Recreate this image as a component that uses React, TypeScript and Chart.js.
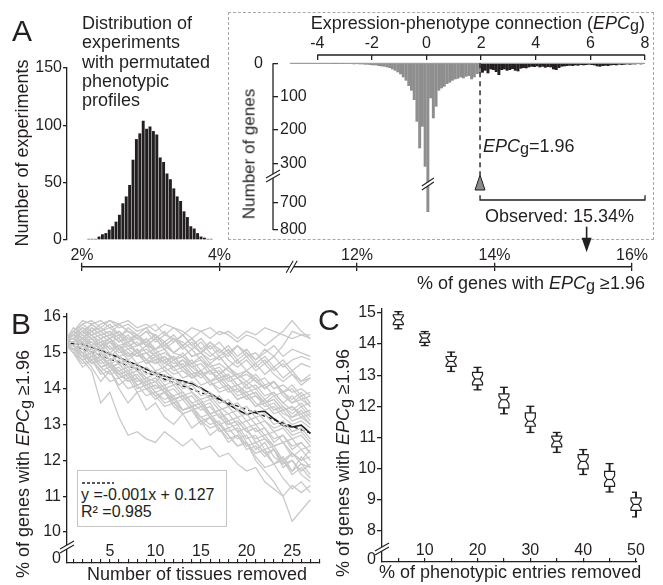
import React, { useEffect, useRef } from 'react';
import { Chart, registerables } from 'chart.js';

Chart.register(...registerables);

const FONT = "'Liberation Sans', Arial, Helvetica, sans-serif";
const INK = '#231f20';
const GREY_BAR = '#8e8e8e';
const GREY_LINE = '#c8c8c8';

// ---------- Panel A: permutation distribution ----------
const permPct = [2.10, 2.15, 2.20, 2.25, 2.30, 2.35, 2.40, 2.45, 2.50, 2.55, 2.60, 2.65, 2.70, 2.75, 2.80, 2.85, 2.90, 2.95, 3.00, 3.05, 3.10, 3.15, 3.20, 3.25, 3.30, 3.35, 3.40, 3.45, 3.50, 3.55, 3.60, 3.65, 3.70, 3.75, 3.80, 3.85, 3.90];
const permCounts = [1, 1, 1, 3, 5, 6, 9, 12, 16, 22, 32, 38, 48, 70, 88, 93, 104, 97, 99, 95, 92, 72, 68, 58, 53, 45, 38, 34, 25, 20, 12, 10, 6, 3, 2, 1, 1];
const permYTicks = [0, 50, 100, 150];

// ---------- Panel A inset: EPC histogram ----------
const epcBinCenters = [
  -3.45, -3.35, -3.25, -3.15, -3.05, -2.95, -2.85, -2.75, -2.65, -2.55, -2.45, -2.35, -2.25, -2.15, -2.05,
  -1.95, -1.85, -1.75, -1.65, -1.55, -1.45, -1.35, -1.25, -1.15, -1.05, -0.95, -0.85, -0.75, -0.65, -0.55, -0.45, -0.35, -0.25, -0.15, -0.05,
  0.05, 0.15, 0.25, 0.35, 0.45, 0.55, 0.65, 0.75, 0.85, 0.95, 1.05, 1.15, 1.25, 1.35, 1.45, 1.55, 1.65, 1.75, 1.85, 1.95,
  2.05, 2.15, 2.25, 2.35, 2.45, 2.55, 2.65, 2.75, 2.85, 2.95, 3.05, 3.15, 3.25, 3.35, 3.45, 3.55, 3.65, 3.75, 3.85, 3.95,
  4.05, 4.15, 4.25, 4.35, 4.45, 4.55, 4.65, 4.75, 4.85, 4.95, 5.05, 5.15, 5.25, 5.35, 5.45, 5.55, 5.65, 5.75, 5.85, 5.95,
  6.05, 6.15, 6.25, 6.35, 6.45, 6.55, 6.65, 6.75, 6.85, 6.95, 7.05, 7.15, 7.25, 7.35, 7.45, 7.55, 7.65, 7.75, 7.85, 7.95,
];
const epcGeneCounts = [
  1, 1, 1, 2, 1, 2, 2, 2, 3, 2, 3, 3, 4, 4, 5,
  6, 6, 8, 9, 10, 12, 14, 18, 22, 27, 33, 42, 52, 68, 82, 110, 175, 255, 190, 310,
  735, 105, 165, 130, 82, 75, 70, 62, 58, 52, 48, 46, 42, 45, 40, 38, 48, 42, 32, 30,
  28, 22, 30, 18, 20, 26, 35, 20, 18, 22, 20, 17, 22, 24, 16, 14, 15, 12, 10, 11,
  9, 12, 10, 13, 11, 12, 18, 20, 14, 10, 9, 8, 7, 8, 6, 7, 5, 6, 5, 4,
  5, 6, 9, 10, 8, 7, 8, 6, 5, 6, 4, 5, 4, 3, 4, 3, 3, 2, 3, 2,
];
const epcThreshold = 1.96;
const epcXTicks = [-4, -2, 0, 2, 4, 6, 8];
const geneTicks = [0, 100, 200, 300, 700, 800];
const epcBaselineFrom = -5;

// broken gene-count axis: 0..350 linear, 700..800 compressed
const geneDisp = (v: number) => (v <= 350 ? v : 417 + (v - 700) * 0.83);

// ---------- Panel A bottom: % axis (broken) ----------
const pctTicks = [2, 4, 12, 14, 16];
const observedPct = 15.34;
const pctDisp = (p: number) => (p <= 4 ? p : p - 6);
const pctBreakDisp = 5.05;

// ---------- Panel B: tissues removed ----------
const tissuesRemoved = [0, 1, 2, 3, 4, 5, 6, 7, 8, 9, 10, 11, 12, 13, 14, 15, 16, 17, 18, 19, 20, 21, 22, 23, 24, 25, 26, 27];
const tissueRuns = [
  [15.3, 15.6, 15.9, 15.8, 15.9, 15.7, 15.8, 15.6, 15.5, 15.7, 15.4, 15.6, 15.3, 15.5, 15.2, 15.4, 15.1, 15.3, 15.0, 15.2, 14.9, 15.0, 14.7, 14.9, 14.6, 14.8, 14.9, 14.8],
  [15.3, 15.5, 15.7, 15.6, 15.8, 15.9, 15.7, 15.8, 15.6, 15.7, 15.8, 15.5, 15.7, 15.6, 15.4, 15.6, 15.7, 15.5, 15.6, 15.4, 15.6, 15.5, 15.7, 15.6, 15.5, 15.4, 15.5, 15.4],
  [15.3, 15.4, 15.6, 15.8, 15.6, 15.4, 15.6, 15.3, 15.5, 15.2, 15.4, 15.1, 15.3, 15.5, 15.2, 15.0, 15.3, 15.1, 14.9, 15.2, 15.0, 14.8, 15.1, 14.9, 15.2, 15.6, 15.5, 15.5],
  [15.3, 15.2, 14.9, 14.6, 14.2, 14.5, 14.0, 13.6, 13.9, 13.4, 13.6, 13.2, 13.0, 13.3, 12.9, 13.1, 12.7, 12.9, 12.5, 12.7, 12.3, 12.4, 12.1, 12.3, 11.8, 12.0, 11.6, 11.4],
  [15.3, 15.1, 14.9, 14.8, 14.5, 14.6, 14.3, 14.4, 14.1, 14.2, 13.9, 13.7, 13.8, 13.4, 13.5, 13.1, 12.9, 13.0, 12.7, 12.4, 12.5, 12.0, 11.7, 11.4, 11.0, 10.3, 10.6, 10.9],
  [15.3, 15.4, 15.2, 15.0, 15.1, 14.8, 14.9, 14.6, 14.7, 14.4, 14.5, 14.2, 14.3, 14.0, 14.1, 13.8, 13.9, 13.6, 13.7, 13.4, 13.5, 13.2, 13.3, 13.0, 13.1, 12.8, 12.9, 12.6],
  [15.3, 15.5, 15.3, 15.4, 15.2, 15.3, 15.1, 15.2, 15.0, 15.1, 14.9, 15.0, 14.8, 14.9, 14.6, 14.7, 14.4, 14.5, 14.2, 14.3, 14.0, 14.1, 13.8, 13.9, 13.6, 13.8, 13.5, 13.6],
  [15.3, 15.0, 14.8, 14.9, 14.6, 14.4, 14.5, 14.2, 14.3, 14.0, 14.1, 13.9, 13.7, 13.8, 13.5, 13.6, 13.3, 13.4, 13.1, 13.2, 12.9, 13.0, 12.7, 12.8, 12.5, 12.6, 12.3, 12.4],
  [15.3, 15.2, 15.4, 15.1, 15.3, 15.0, 15.2, 14.9, 15.1, 14.8, 14.7, 14.9, 14.6, 14.7, 14.4, 14.5, 14.2, 14.0, 14.1, 13.8, 13.9, 13.6, 13.4, 13.5, 13.2, 13.0, 13.1, 12.9],
  [15.3, 15.0, 14.8, 14.5, 13.6, 13.9, 13.2, 12.7, 12.8, 12.6, 12.5, 12.8, 12.6, 12.4, 12.6, 12.3, 12.4, 12.1, 12.2, 11.9, 11.7, 11.8, 11.4, 11.2, 11.0, 11.3, 11.1, 11.3],
  [15.3, 15.4, 15.6, 15.5, 15.3, 15.4, 15.2, 15.3, 15.4, 15.2, 15.1, 15.3, 15.0, 14.9, 15.1, 14.8, 14.6, 14.7, 14.5, 14.3, 14.4, 14.2, 14.3, 14.0, 14.1, 13.9, 14.0, 13.8],
  [15.3, 15.2, 15.0, 15.1, 14.9, 14.7, 14.8, 14.5, 14.6, 14.3, 14.2, 14.4, 14.1, 14.2, 13.9, 13.7, 13.8, 13.5, 13.3, 13.4, 13.1, 13.2, 12.9, 12.6, 12.7, 12.4, 12.5, 12.2],
  [15.3, 15.3, 15.1, 15.2, 15.0, 14.8, 14.9, 14.7, 14.5, 14.6, 14.4, 14.5, 14.3, 14.1, 14.2, 14.0, 13.7, 13.8, 13.5, 13.6, 13.3, 13.4, 13.1, 12.9, 13.0, 12.7, 12.8, 12.5],
  [15.3, 15.5, 15.7, 15.5, 15.6, 15.4, 15.5, 15.2, 15.3, 15.0, 15.1, 14.8, 14.9, 14.6, 14.7, 14.4, 14.5, 14.2, 14.3, 14.0, 13.8, 13.9, 13.6, 13.7, 13.4, 13.5, 13.2, 13.3],
  [15.3, 15.1, 15.2, 14.9, 15.0, 14.6, 14.7, 14.4, 14.5, 14.2, 14.3, 14.0, 13.8, 13.9, 13.6, 13.4, 13.5, 13.2, 13.0, 13.1, 12.8, 12.9, 12.6, 12.4, 12.5, 12.2, 12.0, 12.1],
  [15.3, 15.4, 15.3, 15.5, 15.2, 15.4, 15.1, 15.3, 15.0, 14.8, 15.0, 14.7, 14.9, 14.6, 14.4, 14.5, 14.2, 14.3, 14.0, 13.7, 13.8, 13.5, 13.6, 13.3, 13.4, 13.1, 13.2, 13.0],
  [15.3, 15.2, 15.3, 15.0, 14.8, 15.0, 14.7, 14.8, 14.5, 14.3, 14.4, 14.1, 14.2, 13.9, 13.6, 13.7, 13.3, 13.4, 13.1, 12.8, 12.9, 12.5, 12.6, 12.3, 12.0, 12.2, 11.9, 11.8],
  [15.3, 15.6, 15.4, 15.7, 15.5, 15.6, 15.3, 15.5, 15.2, 15.4, 15.1, 15.3, 15.0, 15.2, 14.9, 15.0, 14.8, 14.9, 14.6, 14.8, 14.5, 14.7, 14.4, 14.6, 14.3, 14.5, 14.2, 14.3],
  [15.3, 15.0, 15.1, 14.8, 14.9, 14.6, 14.4, 14.5, 14.2, 14.3, 14.0, 14.1, 13.7, 13.8, 13.5, 13.6, 13.3, 13.4, 13.0, 13.1, 12.8, 12.6, 12.7, 12.4, 12.5, 12.1, 12.3, 12.0],
  [15.3, 15.3, 15.5, 15.2, 15.4, 15.1, 15.2, 14.9, 15.0, 14.7, 14.8, 14.5, 14.6, 14.3, 14.4, 14.1, 14.2, 13.9, 14.0, 13.7, 13.8, 13.5, 13.7, 13.4, 13.5, 13.2, 13.4, 13.1],
  [15.3, 15.1, 14.9, 15.0, 14.7, 14.8, 14.4, 14.5, 14.1, 14.2, 13.9, 14.0, 13.6, 13.7, 13.4, 13.5, 13.2, 13.3, 12.9, 13.0, 12.6, 12.7, 12.3, 12.4, 12.0, 11.6, 11.8, 11.5],
  [15.3, 15.4, 15.6, 15.4, 15.5, 15.3, 15.4, 15.1, 15.2, 15.3, 15.0, 15.1, 14.8, 14.9, 14.7, 14.8, 14.5, 14.6, 14.3, 14.4, 14.2, 14.4, 14.1, 14.2, 13.9, 14.1, 13.8, 13.9],
  [15.3, 15.2, 15.0, 14.7, 14.8, 14.5, 14.6, 14.3, 14.4, 14.1, 14.2, 13.9, 14.0, 13.7, 13.8, 13.5, 13.6, 13.2, 13.3, 13.0, 13.1, 12.8, 12.9, 12.5, 12.7, 12.3, 12.5, 12.2],
  [15.3, 15.5, 15.3, 15.6, 15.4, 15.5, 15.6, 15.4, 15.5, 15.3, 15.5, 15.2, 15.4, 15.1, 15.3, 15.0, 15.2, 14.9, 15.1, 14.8, 15.0, 14.7, 14.9, 14.6, 14.8, 14.5, 14.7, 14.6],
  [15.3, 15.2, 14.9, 15.0, 14.6, 14.7, 14.3, 14.4, 14.0, 14.1, 13.8, 13.5, 13.6, 13.3, 13.4, 13.1, 13.2, 12.9, 12.6, 12.7, 12.4, 12.5, 12.2, 11.9, 12.1, 11.7, 11.9, 11.6],
  [15.3, 15.3, 15.4, 15.2, 15.3, 15.1, 15.2, 15.0, 14.9, 15.0, 14.8, 14.9, 14.7, 14.8, 14.6, 14.4, 14.5, 14.3, 14.4, 14.1, 14.2, 14.0, 14.1, 13.8, 13.9, 13.6, 13.7, 13.5],
  [15.3, 15.0, 14.7, 14.8, 14.5, 14.2, 14.3, 14.0, 14.1, 13.8, 13.9, 13.6, 13.7, 13.4, 13.5, 13.2, 13.3, 13.0, 13.1, 12.8, 12.4, 12.5, 12.2, 12.3, 11.9, 12.0, 11.7, 11.9],
  [15.3, 15.4, 15.2, 15.3, 15.1, 15.2, 14.9, 15.0, 14.7, 14.8, 14.5, 14.6, 14.4, 14.5, 14.3, 14.4, 14.1, 14.2, 13.9, 14.0, 13.7, 13.8, 13.5, 13.6, 13.3, 13.2, 13.3, 13.0],
  [15.3, 15.2, 15.4, 15.3, 15.1, 15.3, 15.0, 15.1, 14.9, 15.0, 14.7, 14.8, 14.5, 14.6, 14.3, 14.5, 14.2, 14.3, 14.0, 14.1, 13.8, 13.9, 13.6, 13.7, 13.4, 13.5, 13.3, 13.4],
  [15.3, 15.1, 15.0, 14.7, 14.9, 14.6, 14.7, 14.4, 14.5, 14.2, 14.3, 14.0, 14.1, 13.8, 13.9, 13.6, 13.7, 13.4, 13.5, 13.2, 13.3, 13.0, 13.1, 12.8, 12.9, 12.6, 12.7, 12.4],
  [15.3, 15.6, 15.8, 15.9, 15.7, 15.9, 15.8, 15.9, 15.7, 15.8, 15.6, 15.8, 15.7, 15.5, 15.7, 15.6, 15.4, 15.6, 15.5, 15.3, 15.5, 15.4, 15.2, 15.4, 15.6, 15.9, 15.6, 15.4],
  [15.3, 15.7, 15.5, 15.8, 15.6, 15.7, 15.5, 15.6, 15.4, 15.6, 15.3, 15.5, 15.4, 15.2, 15.4, 15.1, 15.3, 15.0, 15.2, 14.9, 15.1, 14.8, 15.0, 15.2, 14.9, 15.1, 15.0, 14.9],
  [15.3, 15.5, 15.8, 15.6, 15.7, 15.5, 15.8, 15.6, 15.4, 15.6, 15.5, 15.3, 15.5, 15.2, 15.4, 15.1, 14.9, 15.1, 14.8, 14.6, 14.8, 14.5, 14.7, 14.4, 14.2, 14.4, 14.1, 14.3],
  [15.3, 15.4, 15.7, 15.5, 15.6, 15.8, 15.5, 15.3, 15.5, 15.2, 15.4, 15.1, 14.8, 15.0, 14.7, 14.9, 14.6, 14.4, 14.6, 14.3, 14.5, 14.2, 14.0, 14.2, 13.9, 13.7, 13.9, 13.6],
  [15.3, 15.1, 14.8, 14.9, 14.6, 14.7, 14.4, 14.2, 14.3, 14.0, 13.8, 13.9, 13.6, 13.4, 13.5, 13.2, 13.0, 13.1, 12.7, 12.4, 12.5, 12.1, 11.8, 11.9, 11.5, 11.2, 11.4, 11.1],
  [15.3, 15.2, 15.0, 14.8, 14.9, 14.7, 14.5, 14.6, 14.3, 14.1, 14.2, 13.9, 13.7, 13.8, 13.5, 13.6, 13.2, 13.0, 12.8, 12.9, 12.5, 12.2, 12.3, 11.9, 12.0, 11.7, 12.1, 11.8],
  [15.3, 15.5, 15.4, 15.6, 15.4, 15.5, 15.3, 15.4, 15.2, 15.3, 15.1, 15.2, 15.0, 15.2, 14.9, 15.0, 14.7, 14.9, 14.6, 14.4, 14.5, 14.3, 14.0, 14.2, 13.9, 14.0, 13.7, 13.8],
  [15.3, 15.3, 15.6, 15.4, 15.2, 15.4, 15.1, 15.3, 15.0, 15.2, 14.9, 14.7, 14.9, 14.6, 14.8, 14.5, 14.7, 14.4, 14.6, 14.3, 14.1, 14.3, 14.0, 14.2, 13.8, 13.6, 13.8, 13.5],
  [15.3, 15.1, 15.3, 15.0, 15.2, 14.9, 15.1, 14.8, 15.0, 14.7, 14.9, 14.6, 14.8, 14.5, 14.3, 14.5, 14.2, 14.4, 14.1, 13.9, 14.1, 13.8, 13.6, 13.8, 13.5, 13.3, 13.5, 13.2],
  [15.3, 15.0, 14.6, 14.8, 14.4, 14.5, 14.1, 14.3, 13.9, 14.0, 13.7, 13.9, 13.5, 13.3, 13.4, 13.0, 13.2, 12.8, 12.9, 12.6, 12.7, 12.3, 12.5, 12.1, 11.9, 12.2, 12.0, 12.3],
  [15.3, 15.6, 15.4, 15.7, 15.5, 15.6, 15.4, 15.7, 15.5, 15.3, 15.5, 15.2, 15.4, 15.3, 15.1, 15.3, 15.0, 14.8, 15.0, 14.7, 14.9, 14.6, 14.8, 14.5, 14.7, 14.4, 14.2, 14.4],
  [15.3, 15.4, 15.2, 15.4, 15.1, 15.3, 15.1, 14.9, 15.1, 14.8, 15.0, 14.7, 14.6, 14.8, 14.5, 14.3, 14.5, 14.2, 14.4, 14.1, 13.9, 14.0, 13.7, 13.9, 13.6, 13.4, 13.6, 13.3],
];
const tissueMean = [15.33, 15.25, 15.24, 15.15, 15.07, 14.97, 14.87, 14.76, 14.66, 14.54, 14.44, 14.35, 14.27, 14.21, 14.14, 14.02, 13.87, 13.71, 13.56, 13.41, 13.28, 13.35, 13.37, 13.16, 12.97, 12.93, 12.98, 12.75];
const fitX = [0, 27];
const fitY = [15.3, 12.76];
const tissueXTicks = [1, 2, 3, 4, 5, 6, 7, 8, 9, 10, 11, 12, 13, 14, 15, 16, 17, 18, 19, 20, 21, 22, 23, 24, 25, 26, 27, 28];
const tissueXLabels = [5, 10, 15, 20, 25];
const tissueYTicks = [9.27, 10, 11, 12, 13, 14, 15, 16];
const tissueYLabels = ['0', '10', '11', '12', '13', '14', '15', '16'];
const tissueBreakAt = 9.58;

// ---------- Panel C: phenotypic entries removed ----------
const entriesRemoved = [5, 10, 15, 20, 25, 30, 35, 40, 45, 50];
const boxLow = [14.49, 13.95, 13.12, 12.53, 11.76, 11.16, 10.52, 9.81, 9.25, 8.45];
const boxQ1 = [14.62, 14.05, 13.28, 12.69, 11.95, 11.36, 10.70, 9.99, 9.43, 8.66];
const boxMed = [14.78, 14.19, 13.44, 12.88, 12.21, 11.52, 10.88, 10.23, 9.65, 8.85];
const boxQ3 = [14.94, 14.33, 13.60, 13.09, 12.40, 11.79, 11.04, 10.45, 9.91, 9.06];
const boxHigh = [15.04, 14.40, 13.74, 13.25, 12.61, 12.00, 11.16, 10.61, 10.16, 9.24];
const entriesXTicks = [5, 10, 15, 20, 25, 30, 35, 40, 45, 50];
const entriesXLabels = [10, 20, 30, 40, 50];
const entriesYTicks = [7.07, 8, 9, 10, 11, 12, 13, 14, 15];
const entriesYLabels = ['0', '8', '9', '10', '11', '12', '13', '14', '15'];
const entriesBreakAt = 7.42;

// ---------- helpers ----------
const tickFont = { family: FONT, size: 16 };
const setTicks = (vals: number[]) => (s: any) => {
  s.ticks = vals.map((v) => ({ value: v }));
};
const fit = (w: number | null, h: number | null) => (s: any) => {
  if (w !== null) s.width = w;
  if (h !== null) s.height = h;
  s.paddingLeft = 0;
  s.paddingRight = 0;
  s.paddingTop = 0;
  s.paddingBottom = 0;
};
const common: any = {
  animation: false,
  responsive: false,
  maintainAspectRatio: false,
  events: [],
  plugins: { legend: { display: false }, tooltip: { enabled: false } },
};

function drawBreak(ctx: CanvasRenderingContext2D, cx: number, cy: number, dx: number, dy: number, ox: number, oy: number) {
  ctx.save();
  ctx.fillStyle = '#ffffff';
  ctx.beginPath();
  ctx.moveTo(cx - dx + ox, cy - dy + oy);
  ctx.lineTo(cx + dx + ox, cy + dy + oy);
  ctx.lineTo(cx + dx - ox, cy + dy - oy);
  ctx.lineTo(cx - dx - ox, cy - dy - oy);
  ctx.closePath();
  ctx.fill();
  ctx.strokeStyle = INK;
  ctx.lineWidth = 1.1;
  ctx.beginPath();
  ctx.moveTo(cx - dx + ox, cy - dy + oy);
  ctx.lineTo(cx + dx + ox, cy + dy + oy);
  ctx.moveTo(cx - dx - ox, cy - dy - oy);
  ctx.lineTo(cx + dx - ox, cy + dy - oy);
  ctx.stroke();
  ctx.restore();
}

const insetDecor = {
  id: 'insetDecor',
  afterDatasetsDraw(chart: any) {
    const ctx: CanvasRenderingContext2D = chart.ctx;
    const x = chart.scales.x;
    const y = chart.scales.y;
    const px = (v: number) => x.getPixelForValue(v);
    const py = (v: number) => y.getPixelForValue(v);
    ctx.save();
    ctx.strokeStyle = '#8a8a8a';
    ctx.lineWidth = 1;
    ctx.beginPath();
    ctx.moveTo(px(epcBaselineFrom), py(0));
    ctx.lineTo(px(epcXTicks[epcXTicks.length - 1]), py(0));
    ctx.stroke();
    ctx.strokeStyle = INK;
    ctx.lineWidth = 1.3;
    ctx.beginPath();
    ctx.moveTo(px(epcXTicks[0]), x.bottom);
    ctx.lineTo(px(epcXTicks[epcXTicks.length - 1]), x.bottom);
    ctx.stroke();
    ctx.beginPath();
    ctx.moveTo(y.right, py(0));
    ctx.lineTo(y.right, py(geneDisp(800)));
    ctx.stroke();
    drawBreak(ctx, y.right, py(338), 7, -4, 0, 2);
    drawBreak(ctx, px(0.05), py(362), 6, -4, 0, 2);
    const tx = px(epcThreshold);
    ctx.strokeStyle = INK;
    ctx.setLineDash([5, 4]);
    ctx.lineWidth = 1.4;
    ctx.beginPath();
    ctx.moveTo(tx, py(0));
    ctx.lineTo(tx, py(335));
    ctx.stroke();
    ctx.setLineDash([]);
    ctx.fillStyle = '#8a8a8a';
    ctx.lineWidth = 1;
    ctx.beginPath();
    ctx.moveTo(tx, py(335));
    ctx.lineTo(tx + 5, py(380));
    ctx.lineTo(tx - 5, py(380));
    ctx.closePath();
    ctx.fill();
    ctx.stroke();
    ctx.lineWidth = 1.3;
    ctx.beginPath();
    ctx.moveTo(tx, py(396));
    ctx.lineTo(tx, py(410));
    ctx.lineTo(px(8), py(410));
    ctx.lineTo(px(8), py(396));
    ctx.stroke();
    ctx.restore();
  },
};

const pctDecor = {
  id: 'pctDecor',
  afterDraw(chart: any) {
    const ctx: CanvasRenderingContext2D = chart.ctx;
    const x = chart.scales.x;
    const yl = x.bottom;
    drawBreak(ctx, x.getPixelForValue(pctBreakDisp), yl, 3.5, -6, 2, 0);
    const ax = x.getPixelForValue(pctDisp(observedPct));
    ctx.save();
    ctx.strokeStyle = INK;
    ctx.fillStyle = INK;
    ctx.lineWidth = 1.6;
    ctx.beginPath();
    ctx.moveTo(ax, yl - 40);
    ctx.lineTo(ax, yl - 27);
    ctx.stroke();
    ctx.beginPath();
    ctx.moveTo(ax - 5, yl - 29);
    ctx.lineTo(ax + 5, yl - 29);
    ctx.lineTo(ax, yl - 14.5);
    ctx.closePath();
    ctx.fill();
    ctx.restore();
  },
};

const tissueDecor = {
  id: 'tissueDecor',
  afterDraw(chart: any) {
    const y = chart.scales.y;
    drawBreak(chart.ctx, y.right, y.getPixelForValue(tissueBreakAt), 7, -4, 0, 2);
  },
};

const boxDecor = {
  id: 'boxDecor',
  afterDatasetsDraw(chart: any) {
    const ctx: CanvasRenderingContext2D = chart.ctx;
    const x = chart.scales.x;
    const y = chart.scales.y;
    ctx.save();
    ctx.strokeStyle = INK;
    ctx.fillStyle = '#ffffff';
    ctx.lineWidth = 1.2;
    entriesRemoved.forEach((e, i) => {
      const cx = x.getPixelForValue(e);
      const hw = 5;
      const d = 2.4;
      const top = y.getPixelForValue(boxQ3[i]);
      const bot = y.getPixelForValue(boxQ1[i]);
      const med = y.getPixelForValue(boxMed[i]);
      const nTop = Math.max(top, y.getPixelForValue(boxMed[i] + 0.12));
      const nBot = Math.min(bot, y.getPixelForValue(boxMed[i] - 0.12));
      ctx.beginPath();
      ctx.moveTo(cx - hw, top);
      ctx.lineTo(cx + hw, top);
      ctx.lineTo(cx + hw, nTop);
      ctx.lineTo(cx + hw - d, med);
      ctx.lineTo(cx + hw, nBot);
      ctx.lineTo(cx + hw, bot);
      ctx.lineTo(cx - hw, bot);
      ctx.lineTo(cx - hw, nBot);
      ctx.lineTo(cx - hw + d, med);
      ctx.lineTo(cx - hw, nTop);
      ctx.closePath();
      ctx.fill();
      ctx.stroke();
      ctx.beginPath();
      ctx.moveTo(cx - hw + d, med);
      ctx.lineTo(cx + hw - d, med);
      ctx.stroke();
    });
    ctx.restore();
    drawBreak(ctx, y.right, y.getPixelForValue(entriesBreakAt), 7, -4, 0, 2);
  },
};

const EPCg = () => (
  <>
    <i>EPC</i>
    <span style={{ fontSize: '0.9em', position: 'relative', top: '0.14em' }}>g</span>
  </>
);

const abs = (s: React.CSSProperties): React.CSSProperties => ({
  position: 'absolute',
  whiteSpace: 'nowrap',
  lineHeight: 1,
  fontSize: 18,
  ...s,
});
const rot = (cx: number, cy: number, size: number): React.CSSProperties =>
  abs({ left: cx, top: cy, fontSize: size, transform: 'translate(-50%, -50%) rotate(-90deg)' });

export default function App() {
  const aHist = useRef<HTMLCanvasElement>(null);
  const aInset = useRef<HTMLCanvasElement>(null);
  const aAxis = useRef<HTMLCanvasElement>(null);
  const bRef = useRef<HTMLCanvasElement>(null);
  const cRef = useRef<HTMLCanvasElement>(null);

  useEffect(() => {
    Chart.defaults.font.family = FONT;
    Chart.defaults.color = INK;
    const charts: Chart[] = [];

    // Panel A – permutation histogram
    charts.push(
      new Chart(aHist.current!, {
        type: 'bar',
        data: {
          datasets: [
            {
              data: permPct.map((p, i) => ({ x: p, y: permCounts[i] })),
              backgroundColor: INK,
              borderWidth: 0,
              barPercentage: 0.86,
              categoryPercentage: 1,
            } as any,
          ],
        },
        options: {
          ...common,
          layout: { padding: { left: 0, right: 18, top: 28, bottom: 20 } },
          scales: {
            x: { type: 'linear', display: false, min: 1.779, max: 4.059, offset: false } as any,
            y: {
              min: 0,
              max: 150,
              afterBuildTicks: setTicks(permYTicks),
              afterFit: fit(67, null),
              border: { color: INK, width: 1.3 },
              grid: { drawOnChartArea: false, color: INK, tickColor: INK, tickLength: 4, lineWidth: 1.3 },
              ticks: { font: tickFont, color: INK, padding: 1, autoSkip: false },
            } as any,
          },
        },
      })
    );

    // Panel A inset – EPC histogram
    charts.push(
      new Chart(aInset.current!, {
        type: 'bar',
        data: {
          datasets: [
            {
              data: epcBinCenters.map((x, i) => ({ x, y: geneDisp(epcGeneCounts[i]) })),
              backgroundColor: epcBinCenters.map((x) => (x < epcThreshold ? GREY_BAR : INK)),
              borderWidth: 0,
              barPercentage: 1.08,
              categoryPercentage: 1,
              xAxisID: 'x',
              yAxisID: 'y',
            } as any,
          ],
        },
        options: {
          ...common,
          layout: { padding: { left: 0, right: 18, top: 0, bottom: 32 } },
          scales: {
            x: {
              type: 'linear',
              position: 'top',
              min: -5.62,
              max: 8,
              offset: false,
              afterBuildTicks: setTicks(epcXTicks),
              afterFit: fit(null, 43),
              border: { display: false },
              grid: { drawOnChartArea: false, offset: false, color: INK, tickColor: INK, tickLength: -5, lineWidth: 1.3 },
              ticks: { font: tickFont, color: INK, padding: 7, maxRotation: 0, autoSkip: false },
            } as any,
            y: {
              type: 'linear',
              position: 'left',
              weight: 0,
              reverse: true,
              min: -25,
              max: 500,
              afterBuildTicks: setTicks(geneTicks.map(geneDisp)),
              afterFit: fit(0, null),
              border: { display: false },
              grid: { drawOnChartArea: false, color: INK, tickColor: INK, tickLength: -5, lineWidth: 1.3 },
              ticks: {
                mirror: true,
                padding: 7,
                font: tickFont,
                color: INK,
                autoSkip: false,
                callback: (_v: any, i: number) => (i === 0 ? '' : String(geneTicks[i])),
              },
            } as any,
            y0: {
              type: 'linear',
              axis: 'y',
              position: 'left',
              weight: 1,
              reverse: true,
              min: -25,
              max: 500,
              afterBuildTicks: setTicks([geneTicks[0]]),
              afterFit: fit(45, null),
              border: { display: false },
              grid: { display: false, drawTicks: false },
              ticks: { padding: 10, font: tickFont, color: INK, callback: () => String(geneTicks[0]) },
            } as any,
          },
        },
        plugins: [insetDecor],
      })
    );

    // Panel A bottom – broken % axis
    charts.push(
      new Chart(aAxis.current!, {
        type: 'scatter',
        data: { datasets: [{ data: [] }] },
        options: {
          ...common,
          layout: { padding: { left: 82, right: 31, top: 0, bottom: 6 } },
          scales: {
            x: {
              type: 'linear',
              position: 'top',
              min: pctDisp(pctTicks[0]),
              max: pctDisp(pctTicks[pctTicks.length - 1]),
              afterBuildTicks: setTicks(pctTicks.map(pctDisp)),
              afterFit: fit(null, 51.7),
              border: { color: INK, width: 1.5 },
              grid: { drawOnChartArea: true, color: INK, tickColor: INK, tickLength: 4, lineWidth: 1.3 },
              ticks: {
                font: tickFont,
                color: INK,
                padding: -2,
                maxRotation: 0,
                autoSkip: false,
                callback: (_v: any, i: number) => pctTicks[i] + '%',
              },
            } as any,
            y: { display: false, min: 0, max: 1 },
          },
        },
        plugins: [pctDecor],
      })
    );

    // Panel B – tissues removed
    const greyRuns = tissueRuns.map((run) => ({
      data: tissuesRemoved.map((t, j) => ({ x: t, y: run[j] })),
      borderColor: GREY_LINE,
      borderWidth: 1.25,
      pointRadius: 0,
      tension: 0,
    }));
    charts.push(
      new Chart(bRef.current!, {
        type: 'line',
        data: {
          datasets: [
            ...greyRuns,
            {
              data: tissuesRemoved.map((t, j) => ({ x: t, y: tissueMean[j] })),
              borderColor: INK,
              borderWidth: 1.6,
              pointRadius: 0,
              tension: 0,
            },
            {
              data: fitX.map((t, j) => ({ x: t, y: fitY[j] })),
              borderColor: INK,
              borderWidth: 1.4,
              borderDash: [4, 3],
              pointRadius: 0,
            },
          ] as any,
        },
        options: {
          ...common,
          layout: { padding: { left: 0, right: 10.5, top: 13.4, bottom: 0 } },
          scales: {
            x: {
              type: 'linear',
              min: 0.3,
              max: 28,
              offset: false,
              afterBuildTicks: setTicks(tissueXTicks),
              afterFit: fit(null, 22),
              border: { color: INK, width: 1.3 },
              grid: { drawOnChartArea: false, color: INK, tickColor: INK, tickLength: -4, lineWidth: 1.1 },
              ticks: {
                mirror: true,
                padding: 2,
                font: tickFont,
                color: INK,
                maxRotation: 0,
                autoSkip: false,
                callback: (v: any) => (tissueXLabels.includes(v) ? String(v) : ''),
              },
            } as any,
            y: {
              min: 9.135,
              max: 16.1,
              afterBuildTicks: setTicks(tissueYTicks),
              afterFit: fit(67, null),
              border: { color: INK, width: 1.3 },
              grid: {
                drawOnChartArea: false,
                color: INK,
                tickColor: (c: any) => (c.index === 0 ? 'rgba(0,0,0,0)' : INK),
                tickLength: 4,
                lineWidth: 1.3,
              },
              ticks: { font: tickFont, color: INK, padding: 2, autoSkip: false, callback: (_v: any, i: number) => tissueYLabels[i] },
            } as any,
          },
        },
        plugins: [tissueDecor],
      })
    );

    // Panel C – phenotypic entries removed (notched box plots)
    charts.push(
      new Chart(cRef.current!, {
        type: 'scatter',
        data: {
          datasets: [
            {
              type: 'bar',
              data: entriesRemoved.map((e, i) => ({ x: e, y: [boxLow[i], boxHigh[i]] })),
              backgroundColor: INK,
              borderWidth: 0,
              barThickness: 1.3,
              grouped: false,
            },
            {
              data: entriesRemoved.map((e, i) => ({ x: e, y: boxLow[i] })),
              pointStyle: 'line',
              pointRadius: 4,
              borderColor: INK,
              borderWidth: 1.3,
            },
            {
              data: entriesRemoved.map((e, i) => ({ x: e, y: boxHigh[i] })),
              pointStyle: 'line',
              pointRadius: 4,
              borderColor: INK,
              borderWidth: 1.3,
            },
          ] as any,
        },
        options: {
          ...common,
          layout: { padding: { left: 0, right: 26, top: 9, bottom: 0 } },
          scales: {
            x: {
              type: 'linear',
              min: 1.914,
              max: 50.19,
              offset: false,
              afterBuildTicks: setTicks(entriesXTicks),
              afterFit: fit(null, 23),
              border: { color: INK, width: 1.3 },
              grid: { drawOnChartArea: false, offset: false, color: INK, tickColor: INK, tickLength: -4, lineWidth: 1.2 },
              ticks: {
                mirror: true,
                padding: 2,
                font: tickFont,
                color: INK,
                maxRotation: 0,
                autoSkip: false,
                callback: (v: any) => (entriesXLabels.includes(v) ? String(v) : ''),
              },
            } as any,
            y: {
              min: 7.0,
              max: 15.125,
              afterBuildTicks: setTicks(entriesYTicks),
              afterFit: fit(52, null),
              border: { color: INK, width: 1.3 },
              grid: {
                drawOnChartArea: false,
                color: INK,
                tickColor: (c: any) => (c.index === 0 ? 'rgba(0,0,0,0)' : INK),
                tickLength: 5,
                lineWidth: 1.3,
              },
              ticks: { font: tickFont, color: INK, padding: 1, autoSkip: false, callback: (_v: any, i: number) => entriesYLabels[i] },
            } as any,
          },
        },
        plugins: [boxDecor],
      })
    );

    return () => charts.forEach((c) => c.destroy());
  }, []);

  const cv = (left: number, top: number): React.CSSProperties => ({ position: 'absolute', left, top });

  return (
    <div
      style={{
        position: 'absolute',
        left: 0,
        top: 0,
        width: 663,
        height: 585,
        overflow: 'hidden',
        background: '#ffffff',
        fontFamily: FONT,
        color: INK,
      }}
    >
      <div
        style={{
          position: 'absolute',
          left: 228,
          top: 12,
          width: 426,
          height: 228,
          boxSizing: 'border-box',
          border: '1px dashed #a8a8a8',
        }}
      />
      <canvas ref={aHist} width={240} height={220} style={cv(0, 40)} />
      <canvas ref={aInset} width={435} height={250} style={cv(228, 12)} />
      <canvas ref={aAxis} width={663} height={62} style={cv(0, 215)} />
      <canvas ref={bRef} width={330} height={285} style={cv(0, 300)} />
      <canvas ref={cRef} width={333} height={285} style={cv(330, 300)} />

      {/* Panel B regression box */}
      <div
        style={{
          position: 'absolute',
          left: 77,
          top: 470,
          width: 150,
          height: 57,
          boxSizing: 'border-box',
          border: '1px solid #c4c4c4',
          background: '#ffffff',
        }}
      >
        <svg style={{ position: 'absolute', left: 4, top: 10 }} width={32} height={4}>
          <line x1={0} y1={2} x2={32} y2={2} stroke={INK} strokeWidth={1.4} strokeDasharray="3 2" />
        </svg>
        <div style={abs({ left: 3, top: 16, fontSize: 16 })}>y =-0.001x + 0.127</div>
        <div style={abs({ left: 3, top: 33, fontSize: 16 })}>R² =0.985</div>
      </div>

      {/* panel letters */}
      <div style={abs({ left: 12, top: 16, fontSize: 30 })}>A</div>
      <div style={abs({ left: 11, top: 309, fontSize: 30 })}>B</div>
      <div style={abs({ left: 318, top: 305, fontSize: 30 })}>C</div>

      {/* Panel A texts */}
      <div style={abs({ left: 82, top: 14, lineHeight: '19.3px' })}>
        Distribution of
        <br />
        experiments
        <br />
        with permutated
        <br />
        phenotypic
        <br />
        profiles
      </div>
      <div style={rot(21.5, 153, 18)}>Number of experiments</div>
      <div style={abs({ right: 18, top: 14 })}>
        Expression-phenotype connection (<EPCg />)
      </div>
      <div style={rot(249, 154, 17)}>Number of genes</div>
      <div style={abs({ left: 483, top: 136.5 })}>
        <EPCg />=1.96
      </div>
      <div style={abs({ left: 485, top: 207 })}>Observed: 15.34%</div>
      <div style={abs({ right: 18, top: 274 })}>
        % of genes with <EPCg /> ≥1.96
      </div>

      {/* Panel B texts */}
      <div style={rot(23, 464, 18)}>
        % of genes with <EPCg /> ≥1.96
      </div>
      <div style={abs({ left: 87, top: 564.5 })}>Number of tissues removed</div>

      {/* Panel C texts */}
      <div style={rot(343, 463, 18)}>
        % of genes with <EPCg /> ≥1.96
      </div>
      <div style={abs({ left: 379, top: 562.7 })}>% of phenotypic entries removed</div>
    </div>
  );
}
